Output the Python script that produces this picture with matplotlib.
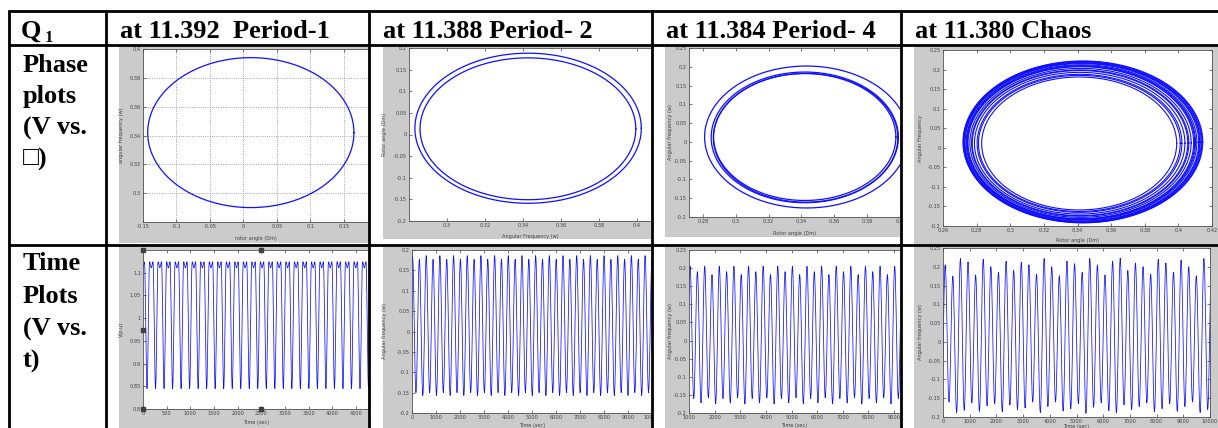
import numpy as np
import matplotlib
matplotlib.use('Agg')
import matplotlib.pyplot as plt
from matplotlib.patches import Rectangle
from matplotlib.transforms import Bbox, TransformedBbox

# ---------------- data ----------------
headers = ["at 11.392  Period-1", "at 11.388 Period- 2", "at 11.384 Period- 4", "at 11.380 Chaos"]
row_labels_1 = ["Phase", "plots", "(V vs.", "\u25a1)"]
row_labels_2 = ["Time", "Plots", "(V vs.", "t)"]

# phase-plot loops: centre x, centre y, radius x, radius y
p1_cx = [0.011]; p1_cy = [0.342]; p1_rx = [0.154]; p1_ry = [0.052]
p2_cx = [0.3427, 0.3426]; p2_cy = [0.0145, 0.0132]; p2_rx = [0.0596, 0.0568]; p2_ry = [0.1735, 0.1640]
p4_cx = [0.3430, 0.3420, 0.3425, 0.3420]; p4_cy = [0.0130, 0.0120, 0.0110, 0.0130]
p4_rx = [0.0620, 0.0570, 0.0562, 0.0555]; p4_ry = [0.1890, 0.1740, 0.1715, 0.1690]
ch_cx = [0.3432, 0.3431, 0.3430, 0.3428, 0.3427, 0.3426, 0.3424, 0.3422, 0.3421, 0.3420,
         0.3418, 0.3416, 0.3415, 0.3413, 0.3412, 0.3411, 0.3410]
ch_cy = [0.0150, 0.0148, 0.0146, 0.0144, 0.0142, 0.0140, 0.0137, 0.0134, 0.0132, 0.0130,
         0.0126, 0.0122, 0.0120, 0.0117, 0.0114, 0.0112, 0.0110]
ch_rx = [0.0713, 0.0710, 0.0706, 0.0702, 0.0699, 0.0695, 0.0686, 0.0680, 0.0676, 0.0671,
         0.0658, 0.0646, 0.0641, 0.0626, 0.0609, 0.0600, 0.0580]
ch_ry = [0.2070, 0.2060, 0.2048, 0.2036, 0.2025, 0.2012, 0.1985, 0.1968, 0.1955, 0.1942,
         0.1905, 0.1870, 0.1855, 0.1812, 0.1765, 0.1740, 0.1700]

# time plots
v_first_trough = 85.0; v_period = 180.0; v_tmax = 4775.0
v_peak = 1.124; v_dip = 1.111; v_trough = 0.845

w2_first_trough = -120.0; w2_period = 285.0
w2_peaks = [0.186, 0.177]; w2_troughs = [-0.157, -0.150]

w4_first_trough = 900.0; w4_period = 285.0
w4_peaks = [0.205, 0.190, 0.205, 0.182]; w4_troughs = [-0.175, -0.160, -0.172, -0.158]

wc_first_trough = -60.0; wc_period = 285.0
wc_peaks = [0.205, 0.175, 0.222, 0.213, 0.178, 0.220, 0.200, 0.185, 0.215, 0.190, 0.212, 0.205,
            0.180, 0.222, 0.200, 0.176, 0.215, 0.208, 0.185, 0.222, 0.205, 0.178, 0.215, 0.223,
            0.190, 0.210, 0.200, 0.180, 0.220, 0.210, 0.185, 0.218, 0.200, 0.176, 0.222, 0.210]
wc_troughs = [-0.175, -0.160, -0.188, -0.182, -0.162, -0.185, -0.170, -0.165, -0.186, -0.168, -0.180, -0.176,
              -0.160, -0.188, -0.172, -0.160, -0.184, -0.178, -0.165, -0.190, -0.174, -0.162, -0.183, -0.189,
              -0.168, -0.180, -0.172, -0.162, -0.186, -0.178, -0.165, -0.185, -0.172, -0.160, -0.188, -0.180]

# ---------------- figure ----------------
W, H = 1218, 428
fig = plt.figure(figsize=(W / 100, H / 100), dpi=100)
fig.patch.set_facecolor('white')

def rect_fig(x0, y0, x1, y1):
    return [x0 / W, 1 - y1 / H, (x1 - x0) / W, (y1 - y0) / H]

base = fig.add_axes([0, 0, 1, 1], zorder=0)
base.set_xlim(0, W); base.set_ylim(H, 0); base.axis('off')
top = fig.add_axes([0, 0, 1, 1], zorder=50)
top.set_xlim(0, W); top.set_ylim(H, 0); top.axis('off'); top.patch.set_alpha(0)

GRAY = '#cbcbcb'
cells = {  # gray screenshot areas (x0, y0, x1, y1)
    (0, 0): (119, 45, 369, 243), (0, 1): (383, 45, 652, 239), (0, 2): (665, 45, 900, 237), (0, 3): (914, 45, 1218, 244),
    (1, 0): (119, 245, 369, 428), (1, 1): (383, 245, 652, 428), (1, 2): (665, 245, 900, 428), (1, 3): (914, 245, 1218, 428)}
cell_clip = {(0, 0): (105, 45, 369, 245), (0, 1): (369, 45, 652, 245), (0, 2): (652, 45, 901, 245), (0, 3): (901, 45, 1218, 245),
             (1, 0): (105, 245, 369, 428), (1, 1): (369, 245, 652, 428), (1, 2): (652, 245, 901, 428), (1, 3): (901, 245, 1218, 428)}
for k, (x0, y0, x1, y1) in cells.items():
    base.add_patch(Rectangle((x0, y0), x1 - x0, y1 - y0, facecolor=GRAY, edgecolor='none'))

BLUE = '#1010ff'
TICK_FS = 3.6

def make_ax(key, box, xlim, ylim, xt, xtl, yt, ytl, xlabel, ylabel, xl_y, yl_x, cropped_right=False, grid=False):
    x0, y0, x1, y1 = box
    ax = fig.add_axes(rect_fig(x0, y0, x1, y1), zorder=10)
    ax.set_facecolor('white')
    ax.set_xlim(*xlim); ax.set_ylim(*ylim)
    ax.set_xticks(xt); ax.set_xticklabels(xtl)
    ax.set_yticks(yt); ax.set_yticklabels(ytl)
    ax.tick_params(direction='in', length=2.2, width=0.5, top=True, right=not cropped_right,
                   labelsize=TICK_FS, colors='#404040', pad=1.5)
    for s in ax.spines.values():
        s.set_linewidth(0.6); s.set_color('#505050')
    if cropped_right:
        ax.spines['right'].set_visible(False)
    if grid:
        ax.grid(True, linestyle=':', linewidth=0.6, color='#8a8a8a')
    ax.set_xlabel(xlabel, fontsize=TICK_FS, color='#404040')
    ax.set_ylabel(ylabel, fontsize=TICK_FS, color='#404040')
    ax.xaxis.set_label_coords(0.5, -(xl_y - y1) / (y1 - y0))
    ax.yaxis.set_label_coords(-(x0 - yl_x) / (x1 - x0), 0.5)
    cx0, cy0, cx1, cy1 = cell_clip[key]
    cb = TransformedBbox(Bbox.from_extents(cx0 / W, 1 - cy1 / H, cx1 / W, 1 - cy0 / H), fig.transFigure)
    for lab in ax.get_xticklabels() + ax.get_yticklabels() + [ax.xaxis.label, ax.yaxis.label]:
        lab.set_clip_box(cb); lab.set_clip_on(True)
    return ax

def fmt(v):
    s = ('%.2f' % v).rstrip('0').rstrip('.')
    if s == '-0':
        s = '0'
    return s

def loops(ax, cxs, cys, rxs, rys, lw=0.7):
    t = np.linspace(0, 2 * np.pi, 400)
    for cx, cy, rx, ry in zip(cxs, cys, rxs, rys):
        ax.plot(cx + rx * np.cos(t), cy + ry * np.sin(t), color=BLUE, lw=lw)

def ease(times, values, n=10):
    ts, ys = [], []
    for i in range(len(times) - 1):
        s = np.linspace(0, 1, n, endpoint=False)
        ts.append(times[i] + (times[i + 1] - times[i]) * s)
        ys.append(values[i] + (values[i + 1] - values[i]) * (1 - np.cos(np.pi * s)) / 2)
    return np.concatenate(ts), np.concatenate(ys)

def alternating(first_trough, period, peaks, troughs, tmax):
    times, vals = [], []
    k = 0
    while first_trough + (k - 1) * period < tmax + period:
        t0 = first_trough + k * period
        times += [t0, t0 + 0.5 * period]
        vals += [troughs[k % len(troughs)], peaks[k % len(peaks)]]
        k += 1
    return ease(times, vals)

TLW = 0.55

# ---- row 1: phase plots ----
a = make_ax((0, 0), (143, 49, 369, 222), (-0.15, 0.1875), (0.28, 0.4),
            [-0.15, -0.1, -0.05, 0, 0.05, 0.1, 0.15], ['-0.15', '-0.1', '-0.05', '0', '0.05', '0.1', '0.15'],
            [0.3, 0.32, 0.34, 0.36, 0.38, 0.4], ['0.3', '0.32', '0.34', '0.36', '0.38', '0.4'],
            'rotor angle (Dm)', 'angular frequency (w)', 236, 124, cropped_right=True, grid=True)
loops(a, p1_cx, p1_cy, p1_rx, p1_ry, lw=0.9)

yt = [-0.2, -0.15, -0.1, -0.05, 0, 0.05, 0.1, 0.15, 0.2]
a = make_ax((0, 1), (409, 48, 651, 221), (0.28, 0.4074), (-0.2, 0.2),
            [0.3, 0.32, 0.34, 0.36, 0.38, 0.4], ['0.3', '0.32', '0.34', '0.36', '0.38', '0.4'],
            yt, [fmt(v) for v in yt], 'Angular Frequency (w)', 'Rotor angle (Dm)', 234, 387, cropped_right=True)
loops(a, p2_cx, p2_cy, p2_rx, p2_ry, lw=0.9)

yt2 = [-0.2, -0.15, -0.1, -0.05, 0, 0.05, 0.1, 0.15, 0.2, 0.25]
xt3 = [0.28, 0.3, 0.32, 0.34, 0.36, 0.38, 0.4]
a = make_ax((0, 2), (689, 48, 900, 217), (0.2715, 0.4), (-0.2, 0.25),
            xt3, [fmt(v) for v in xt3], yt2, [fmt(v) for v in yt2],
            'Rotor angle (Dm)', 'Angular frequency (w)', 231, 673, cropped_right=True)
loops(a, p4_cx, p4_cy, p4_rx, p4_ry, lw=0.9)

xt4 = [0.26, 0.28, 0.3, 0.32, 0.34, 0.36, 0.38, 0.4, 0.42]
a = make_ax((0, 3), (943, 50, 1212, 226), (0.26, 0.42), (-0.2, 0.25),
            xt4, [fmt(v) for v in xt4], yt2, [fmt(v) for v in yt2],
            'Rotor angle (Dm)', 'Angular Frequency', 238, 923)
loops(a, ch_cx, ch_cy, ch_rx, ch_ry, lw=0.8)

# ---- row 2: time plots ----
xv = [0, 500, 1000, 1500, 2000, 2500, 3000, 3500, 4000, 4500]
yv = [0.8, 0.85, 0.9, 0.95, 1.0, 1.05, 1.1]
a = make_ax((1, 0), (143, 250, 369, 409), (0, v_tmax), (0.8, 1.15),
            xv, [str(v) for v in xv], yv, [fmt(v) for v in yv],
            'Time (sec)', 'V(p.u)', 420, 124, cropped_right=True)
tt, vv = [], []
k = 0
while v_first_trough + (k - 1) * v_period < v_tmax + v_period:
    t0 = v_first_trough + (k - 1) * v_period
    tt += [t0, t0 + 0.30 * v_period, t0 + 0.5 * v_period, t0 + 0.70 * v_period]
    vv += [v_trough, v_peak, v_dip, v_peak]
    k += 1
tx, vy = ease(tt, vv)
a.plot(tx, vy, color=BLUE, lw=TLW)
# selection handles of the original screenshot
a.plot([0, 2500, 0, 0, 2500], [1.15, 1.15, 0.975, 0.8, 0.8], 's', ms=2.2, color='#404040',
       clip_on=False, zorder=5)

xt10 = list(range(0, 10001, 1000))
a = make_ax((1, 1), (412, 250, 652, 413), (0, 10000), (-0.2, 0.2),
            xt10, [str(v) for v in xt10], yt, [fmt(v) for v in yt],
            'Time (sec)', 'Angular frequency (w)', 423, 387, cropped_right=True)
tx, vy = alternating(w2_first_trough, w2_period, w2_peaks, w2_troughs, 10000)
a.plot(tx, vy, color=BLUE, lw=TLW)

xt9 = list(range(1000, 9001, 1000))
a = make_ax((1, 2), (689, 250, 900, 413), (1000, 9230), (-0.2, 0.25),
            xt9, [str(v) for v in xt9], yt2, [fmt(v) for v in yt2],
            'Time (sec)', 'Angular frequency (w)', 423, 673, cropped_right=True)
tx, vy = alternating(w4_first_trough, w4_period, w4_peaks, w4_troughs, 9300)
a.plot(tx, vy, color=BLUE, lw=TLW)

a = make_ax((1, 3), (943, 248, 1210, 417), (0, 10000), (-0.2, 0.25),
            xt10, [str(v) for v in xt10], yt2, [fmt(v) for v in yt2],
            'Time (sec)', 'Angular frequency (w)', 424, 923)
tx, vy = alternating(wc_first_trough, wc_period, wc_peaks, wc_troughs, 10000)
a.plot(tx, vy, color=BLUE, lw=TLW)

# ---------------- table text ----------------
SERIF = ['Liberation Serif', 'DejaVu Serif', 'DejaVu Sans']
FS = 19
top.text(21, 38, 'Q', family=SERIF, weight='bold', fontsize=FS, va='baseline', ha='left')
top.text(45, 42, '1', family=SERIF, weight='bold', fontsize=12, va='baseline', ha='left')
for x, s in zip([120, 383, 666, 915], headers):
    top.text(x, 38, s, family=SERIF, weight='bold', fontsize=FS, va='baseline', ha='left')
for yb, s in zip([72, 103, 135, 166], row_labels_1):
    top.text(23, yb, s, family=SERIF, weight='bold', fontsize=FS, va='baseline', ha='left')
for yb, s in zip([270, 303, 336, 368], row_labels_2):
    top.text(23, yb, s, family=SERIF, weight='bold', fontsize=FS, va='baseline', ha='left')

# ---------------- table lines ----------------
LW = 2.0
for y in [11, 44.5, 244.5]:
    top.plot([8, W], [y, y], color='black', lw=LW, solid_capstyle='butt')
for x in [9, 105.5, 369, 652, 901]:
    top.plot([x, x], [10, H], color='black', lw=LW, solid_capstyle='butt')

fig.savefig('out.png', dpi=100, facecolor='white')
